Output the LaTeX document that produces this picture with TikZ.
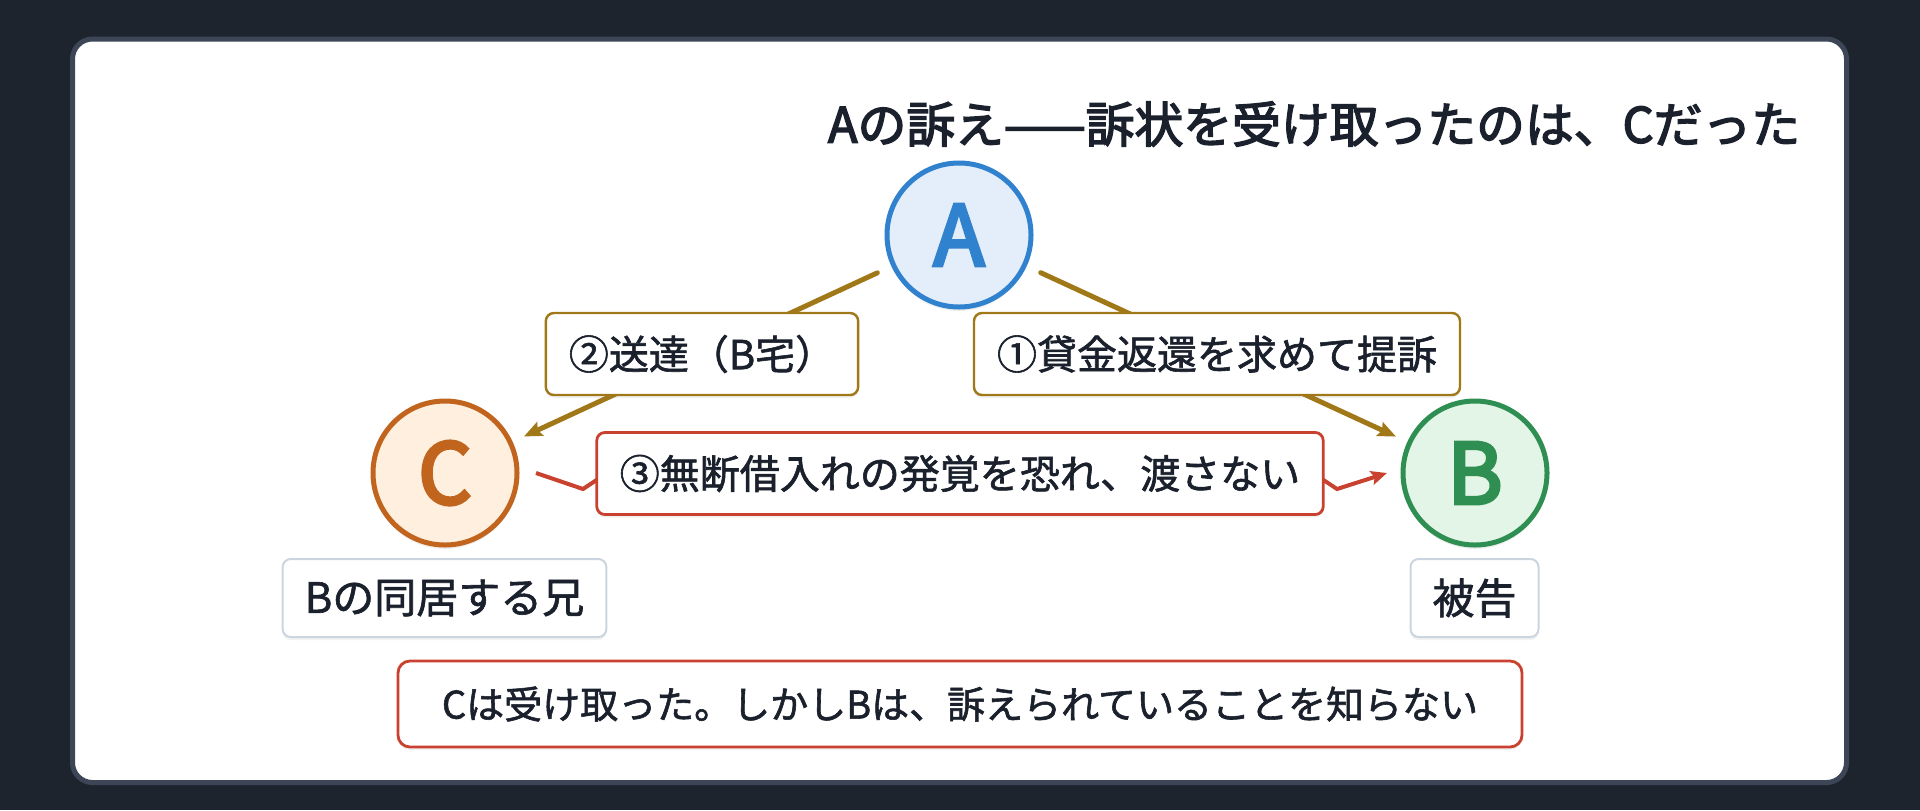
\documentclass[tikz,border=0pt]{standalone}
\usepackage{fontspec}
\setmainfont{Noto Sans CJK JP}
\newfontfamily\titlefont{Noto Sans CJK JP}[FakeBold=3]
\newfontfamily\letterfont{Noto Sans CJK JP}[FakeBold=4]
\newfontfamily\boxfont{Noto Sans CJK JP}[FakeBold=1.5]
\usetikzlibrary{arrows.meta, shadows}

\definecolor{bgdark}{HTML}{1E242E}
\definecolor{cardedge}{HTML}{3C4657}
\definecolor{ink}{HTML}{1A202C}
\definecolor{ablue}{HTML}{3182CE}
\definecolor{afill}{HTML}{E4EEFA}
\definecolor{corange}{HTML}{C0641E}
\definecolor{cfill}{HTML}{FEEFDF}
\definecolor{bgreen}{HTML}{2F8F52}
\definecolor{bfill}{HTML}{E3F5E7}
\definecolor{gold}{HTML}{A07818}
\definecolor{alarm}{HTML}{C9412F}
\definecolor{rolegray}{HTML}{CBD5E0}

\tikzset{
  party/.style = {circle, minimum size=72pt, inner sep=0pt, outer sep=0pt, line width=2.5pt,
                  font=\fontsize{42pt}{44pt}\letterfont,
                  drop shadow={opacity=0.12, shadow xshift=0pt, shadow yshift=-2pt}},
  role/.style = {draw=rolegray, fill=white, line width=1pt, rounded corners=4pt, text=ink,
                 minimum height=39pt, inner xsep=11pt, font=\fontsize{21pt}{24pt}\boxfont,
                 drop shadow={opacity=0.10, shadow xshift=0pt, shadow yshift=-1.5pt}},
  flow/.style = {draw=gold, line width=2.5pt, line cap=round, shorten <=9pt, shorten >=7.5pt,
                 -{Stealth[length=9pt, width=7.5pt, inset=1.5pt]}},
  flowlabel/.style = {draw=gold, fill=white, line width=1.2pt, rounded corners=4pt, text=ink,
                      minimum height=41pt, inner xsep=11.5pt, font=\fontsize{20pt}{24pt}\boxfont,
                      drop shadow={opacity=0.10, shadow xshift=0pt, shadow yshift=-1.5pt}},
  blocked/.style = {draw=alarm, line width=2pt, -{Stealth[length=8pt, width=7pt, inset=1.5pt]}},
  note/.style = {draw=alarm, fill=white, line width=1.4pt, rounded corners=6pt, text=ink,
                 minimum height=43pt, inner xsep=22pt, font=\fontsize{19pt}{22pt}\boxfont,
                 drop shadow={opacity=0.10, shadow xshift=0pt, shadow yshift=-1.5pt}}
}

\begin{document}
\begin{tikzpicture}[x=0.5pt, y=-0.5pt]

\fill[bgdark] (0,0) rectangle (1920,810);
\useasboundingbox (0,0) rectangle (1920,810);
\draw[line width=2.5pt, draw=cardedge, fill=white, rounded corners=10pt] (72.5,39) rectangle (1846.5,782.5);

% title
\node[text=ink, font=\fontsize{24.4pt}{28pt}\titlefont] (title) at (1314,124) {Aの訴え——訴状を受け取ったのは、Cだった};

% the three persons
\node[party, draw=ablue, fill=afill, text=ablue] (A) at (959,235) {A};
\node[party, draw=corange, fill=cfill, text=corange] (C) at (445,473) {C};
\node[party, draw=bgreen, fill=bfill, text=bgreen] (B) at (1475,473) {B};

\node[role] (roleC) at (444.5,598) {Bの同居する兄};
\node[role] (roleB) at (1474.5,598) {被告};

% suit and service
\draw[flow] (A) -- node[flowlabel, midway] (lblServe) {②送達（B宅）} (C);
\draw[flow] (A) -- node[flowlabel, midway] (lblSue) {①貸金返還を求めて提訴} (B);

% C keeps the papers
\coordinate (keepL) at ([shift={(19,0)}]C.east);
\coordinate (keepR) at ([shift={(-16,0)}]B.west);
\draw[blocked] (keepL) -- ++(47,16) -- ++(30,-20) -- ([shift={(-80,-4)}]keepR) -- ++(30,20) -- (keepR);
\node[flowlabel, draw=alarm, line width=1.4pt] (lblKeep) at (960,473.5) {③無断借入れの発覚を恐れ、渡さない};

\node[note] (summary) at (960,704) {Cは受け取った。しかしBは、訴えられていることを知らない};
\end{tikzpicture}
\end{document}
